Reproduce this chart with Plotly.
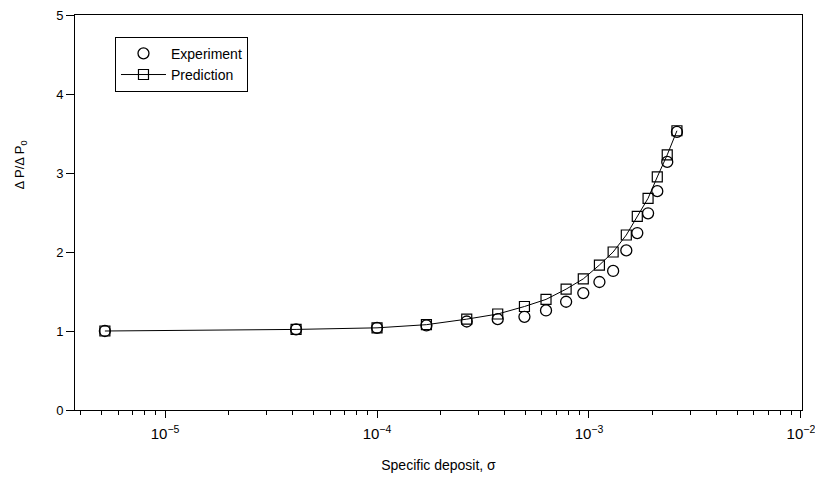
import plotly.graph_objects as go

# Data
sigma = [5.2e-6, 4.15e-5, 1.0e-4, 1.71e-4, 2.65e-4, 3.71e-4, 4.96e-4, 6.27e-4,
         7.8e-4, 9.4e-4, 1.12e-3, 1.30e-3, 1.50e-3, 1.69e-3, 1.90e-3, 2.10e-3,
         2.34e-3, 2.60e-3]
experiment = [1.0, 1.02, 1.04, 1.07, 1.12, 1.15, 1.18, 1.26, 1.37, 1.48, 1.62,
              1.76, 2.02, 2.24, 2.49, 2.77, 3.14, 3.52]
prediction = [1.0, 1.02, 1.04, 1.08, 1.15, 1.215, 1.31, 1.40, 1.53, 1.66, 1.835,
              2.00, 2.215, 2.45, 2.68, 2.95, 3.23, 3.535]

FONT = "Liberation Sans, Arial, sans-serif"

fig = go.Figure()
fig.add_trace(go.Scatter(
    x=sigma, y=experiment, mode="markers", name="Experiment",
    marker=dict(symbol="circle-open", size=11, color="black", line=dict(width=1.3, color="black")),
))
fig.add_trace(go.Scatter(
    x=sigma, y=prediction, mode="lines+markers", name="Prediction",
    line=dict(color="black", width=1),
    marker=dict(symbol="square-open", size=10, color="black", line=dict(width=1.2, color="black")),
))

fig.update_layout(
    width=815, height=482,
    margin=dict(l=75, r=13, t=15, b=72),
    paper_bgcolor="white", plot_bgcolor="white",
    font=dict(family=FONT, color="black", size=12),
    showlegend=True,
    legend=dict(
        x=0.055, y=0.945, xanchor="left", yanchor="top",
        bordercolor="black", borderwidth=1, bgcolor="white",
        font=dict(size=14, family=FONT), itemwidth=45,
    ),
    xaxis=dict(
        type="log", range=[-5.425, -1.995], automargin=False,
        dtick=1, exponentformat="power", showexponent="all",
        showgrid=False, zeroline=False,
        showline=True, linecolor="black", linewidth=1, mirror=True,
        ticks="outside", ticklen=7, tickcolor="black", tickwidth=1,
        tickfont=dict(size=12, family=FONT), ticklabelstandoff=4,
        ticklabeloverflow="allow",
        minor=dict(ticks="outside", ticklen=4, tickcolor="black", dtick="D1", showgrid=False),
        title=dict(text="Specific deposit, σ", font=dict(size=14, family=FONT), standoff=18),
    ),
    yaxis=dict(
        range=[0, 5], dtick=1, automargin=False,
        showgrid=False, zeroline=False,
        showline=True, linecolor="black", linewidth=1, mirror=True,
        ticks="outside", ticklen=8, tickcolor="black", tickwidth=1,
        tickfont=dict(size=13, family=FONT),
    ),
    annotations=[dict(
        text="Δ P/Δ P<sub>0</sub>", textangle=-90,
        xref="paper", yref="paper", x=-0.075, y=0.62,
        xanchor="center", yanchor="middle", showarrow=False,
        font=dict(size=13, family=FONT),
    )],
)

fig.write_html("out.html")
